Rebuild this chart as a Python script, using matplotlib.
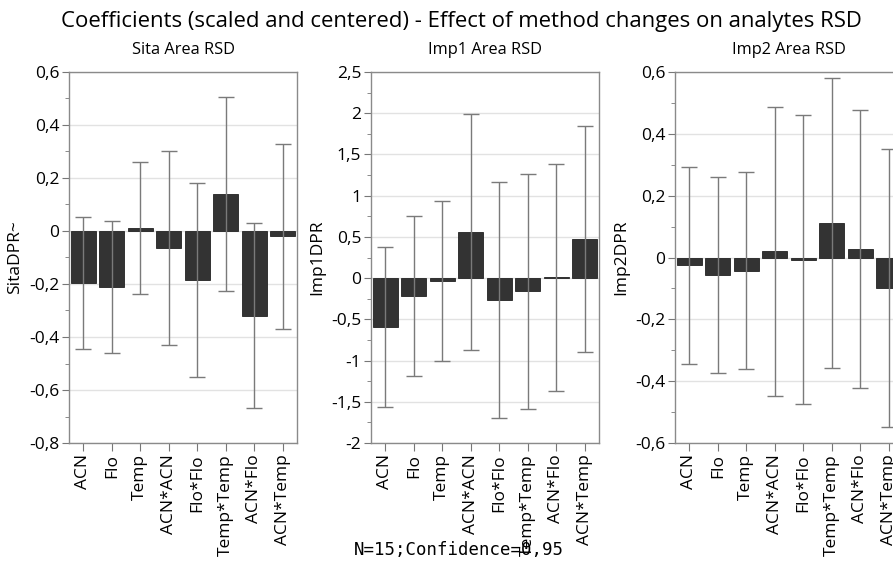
import matplotlib
matplotlib.use("Agg")
import matplotlib.pyplot as plt
from matplotlib.ticker import MultipleLocator, FuncFormatter

terms = ["ACN", "Flo", "Temp", "ACN*ACN", "Flo*Flo", "Temp*Temp", "ACN*Flo", "ACN*Temp"]

# coefficients and half-width of the 95% confidence interval
sita_coef = [-0.197, -0.211, 0.011, -0.063, -0.184, 0.139, -0.319, -0.020]
sita_ci = [0.248, 0.248, 0.248, 0.366, 0.366, 0.366, 0.350, 0.350]

imp1_coef = [-0.593, -0.217, -0.033, 0.557, -0.263, -0.162, 0.008, 0.475]
imp1_ci = [0.968, 0.968, 0.968, 1.430, 1.430, 1.430, 1.373, 1.373]

imp2_coef = [-0.025, -0.057, -0.043, 0.020, -0.007, 0.111, 0.028, -0.099]
imp2_ci = [0.318, 0.318, 0.318, 0.468, 0.468, 0.468, 0.450, 0.450]

plt.rcParams["font.family"] = ["Open Sans", "DejaVu Sans"]

W, H = 893, 562
fig = plt.figure(figsize=(W / 100, H / 100), dpi=100)

def comma(v, pos):
    s = "%g" % round(v, 3)
    return s.replace(".", ",")

panels = [
    (69, "Sita Area RSD", "SitaDPR~", sita_coef, sita_ci, (-0.8, 0.6), 0.2),
    (371, "Imp1 Area RSD", "Imp1DPR", imp1_coef, imp1_ci, (-2, 2.5), 0.5),
    (675, "Imp2 Area RSD", "Imp2DPR", imp2_coef, imp2_ci, (-0.6, 0.6), 0.2),
]

for left, title, ylab, coef, ci, ylim, step in panels:
    ax = fig.add_axes([left / W, (H - 443) / H, 228 / W, 371 / H])
    x = range(len(terms))
    ax.bar(x, coef, width=0.88, color="#333333", edgecolor="#222222", linewidth=0.6, zorder=2)
    ax.errorbar(x, coef, yerr=ci, fmt="none", ecolor="#7a7a7a", elinewidth=1.0,
                capsize=6, capthick=1.0, zorder=3)
    ax.set_xlim(-0.5, len(terms) - 0.5)
    ax.set_ylim(*ylim)
    ax.yaxis.set_major_locator(MultipleLocator(step))
    ax.yaxis.set_minor_locator(MultipleLocator(step / 2))
    ax.yaxis.set_major_formatter(FuncFormatter(comma))
    ax.set_xticks(list(x))
    ax.set_xticklabels(terms, rotation=90, fontsize=12.5)
    ax.tick_params(axis="y", labelsize=12.5, length=5, color="#777777", pad=2)
    ax.tick_params(axis="y", which="minor", length=3, color="#777777")
    ax.tick_params(axis="x", length=6, color="#777777", pad=2)
    ax.grid(axis="y", color="#e2e2e2", linewidth=1.0, zorder=0)
    ax.set_axisbelow(True)
    for sp in ax.spines.values():
        sp.set_color("#8a8a8a")
        sp.set_linewidth(1.0)
    ax.set_title(title, fontsize=11.8, pad=13)
    ax.set_ylabel(ylab, fontsize=12.5, labelpad=4)

fig.text(461 / W, 1 - 22 / H, "Coefficients (scaled and centered) - Effect of method changes on analytes RSD",
         ha="center", va="center", fontsize=15.9)
fig.text(459 / W, 1 - 550 / H, "N=15;Confidence=0,95", ha="center", va="center",
         fontsize=12.5, family="DejaVu Sans Mono")

fig.savefig("out.png", dpi=100, facecolor="white")
